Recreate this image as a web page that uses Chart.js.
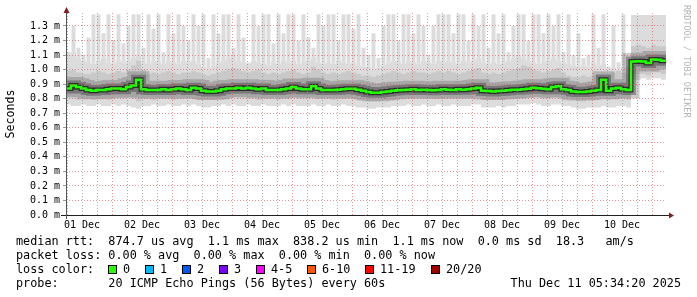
<!DOCTYPE html>
<html>
<head>
<meta charset="utf-8">
<script src="https://cdn.jsdelivr.net/npm/chart.js@4.4.1/dist/chart.umd.min.js"></script>
<style>
  html, body { margin: 0; padding: 0; background: #fff; }
</style>
</head>
<body>
<canvas id="smoke" width="697" height="297"></canvas>
<script>
// 120 columns of 2 hours each, Dec 1 05:34:20 -> Dec 11 05:34:20 (values in ms)
const medianMs = [
  0.87, 0.89, 0.88, 0.87, 0.86, 0.855, 0.86, 0.86, 0.865, 0.87, 0.87, 0.865,
  0.88, 0.89, 0.93, 0.865, 0.86, 0.86, 0.86, 0.865, 0.86, 0.865, 0.87, 0.865,
  0.86, 0.875, 0.87, 0.855, 0.85, 0.85, 0.855, 0.865, 0.87, 0.87, 0.875, 0.87,
  0.875, 0.87, 0.865, 0.87, 0.86, 0.86, 0.86, 0.865, 0.87, 0.88, 0.87, 0.865,
  0.865, 0.885, 0.87, 0.86, 0.86, 0.86, 0.862, 0.865, 0.868, 0.868, 0.862, 0.855,
  0.845, 0.84, 0.84, 0.845, 0.85, 0.855, 0.858, 0.86, 0.862, 0.865, 0.86, 0.862,
  0.86, 0.858, 0.86, 0.865, 0.862, 0.86, 0.865, 0.862, 0.865, 0.87, 0.875, 0.855,
  0.852, 0.85, 0.852, 0.855, 0.858, 0.862, 0.862, 0.865, 0.868, 0.875, 0.872, 0.868,
  0.865, 0.88, 0.885, 0.865, 0.86, 0.85, 0.845, 0.845, 0.85, 0.855, 0.86, 0.93,
  0.855, 0.87, 0.875, 0.865, 0.86, 1.055, 1.058, 1.055, 1.045, 1.07, 1.068, 1.06
];
// tallest pings of each column (thin spikes)
const maxMs = [
  1.12, 1.30, 1.15, 1.10, 1.22, 1.38, 1.38, 1.25, 1.38, 1.20, 1.38, 1.18,
  1.30, 1.38, 1.38, 1.15, 1.38, 1.28, 1.38, 1.12, 1.38, 1.25, 1.38, 1.30,
  1.20, 1.38, 1.30, 1.38, 1.08, 1.38, 1.25, 1.38, 1.38, 1.15, 1.38, 1.22,
  1.05, 1.38, 1.30, 1.38, 1.38, 1.18, 1.38, 1.25, 1.38, 1.38, 1.20, 1.38,
  1.22, 1.15, 1.38, 1.30, 1.38, 1.38, 1.20, 1.38, 1.38, 1.28, 1.38, 1.15,
  1.10, 1.25, 1.08, 1.30, 1.38, 1.38, 1.20, 1.38, 1.38, 1.25, 1.38, 1.30,
  1.10, 1.30, 1.38, 1.38, 1.38, 1.25, 1.38, 1.38, 1.20, 1.38, 1.30, 1.38,
  1.15, 1.38, 1.25, 1.38, 1.12, 1.30, 1.38, 1.38, 1.20, 1.38, 1.38, 1.25,
  1.38, 1.30, 1.38, 1.12, 1.38, 1.10, 1.25, 1.08, 1.10, 1.38, 1.15, 1.38,
  1.02, 1.30, 1.05, 1.38, 1.02, 1.375, 1.375, 1.375, 1.375, 1.375, 1.375, 1.375
];
// top of the continuous light smoke
const baseMs = [
  1.10, 1.12, 1.08, 1.06, 1.05, 1.04, 1.06, 1.08, 1.05, 1.04, 1.06, 1.05,
  1.06, 1.08, 1.10, 1.05, 1.04, 1.06, 1.05, 1.04, 1.06, 1.05, 1.04, 1.06,
  1.05, 1.06, 1.04, 1.02, 1.00, 1.03, 1.05, 1.06, 1.08, 1.10, 1.06, 1.05,
  1.04, 1.06, 1.05, 1.04, 1.03, 1.05, 1.04, 1.06, 1.05, 1.06, 1.04, 1.05,
  1.06, 1.08, 1.05, 1.04, 1.05, 1.04, 1.06, 1.05, 1.04, 1.05, 1.03, 1.02,
  1.02, 1.00, 1.01, 1.03, 1.05, 1.06, 1.05, 1.04, 1.06, 1.05, 1.04, 1.06,
  1.05, 1.04, 1.06, 1.05, 1.06, 1.05, 1.04, 1.06, 1.05, 1.06, 1.08, 1.05,
  1.04, 1.05, 1.04, 1.05, 1.06, 1.08, 1.10, 1.08, 1.06, 1.05, 1.04, 1.05,
  1.06, 1.08, 1.06, 1.05, 1.04, 1.03, 1.02, 1.03, 1.02, 1.05, 1.03, 1.04,
  1.00, 1.01, 1.00, 1.02, 1.00, 1.375, 1.375, 1.375, 1.375, 1.375, 1.375, 1.375
];
const hiMs = [
  0.99, 1.00, 0.98, 0.97, 0.97, 0.98, 0.99, 0.98, 0.97, 0.98, 0.99, 0.98,
  1.00, 1.03, 1.06, 1.00, 0.97, 0.98, 0.97, 0.98, 0.99, 0.98, 0.97, 0.98,
  0.98, 0.99, 0.98, 0.97, 0.96, 0.97, 0.98, 0.99, 1.00, 1.01, 1.00, 0.99,
  0.98, 0.99, 1.00, 0.98, 0.97, 0.98, 0.97, 0.98, 0.99, 1.00, 0.98, 0.97,
  0.98, 1.02, 1.00, 0.98, 0.97, 0.98, 0.97, 0.98, 0.99, 0.98, 0.97, 0.96,
  0.96, 0.95, 0.96, 0.97, 0.98, 0.99, 0.98, 0.97, 0.98, 0.99, 0.98, 0.98,
  0.97, 0.98, 0.99, 0.98, 0.99, 0.98, 0.97, 0.98, 0.99, 1.00, 1.01, 0.98,
  0.97, 0.98, 0.97, 0.98, 0.99, 1.00, 1.01, 1.03, 1.02, 1.00, 0.99, 0.98,
  0.99, 1.00, 1.01, 0.98, 0.96, 0.95, 0.95, 0.96, 0.95, 0.96, 0.97, 0.98,
  0.97, 0.98, 0.99, 0.98, 0.97, 1.16, 1.17, 1.16, 1.15, 1.17, 1.16, 1.16
];
const loMs = [
  0.80, 0.80, 0.79, 0.80, 0.80, 0.79, 0.80, 0.80, 0.79, 0.80, 0.80, 0.80,
  0.81, 0.80, 0.78, 0.80, 0.80, 0.79, 0.80, 0.80, 0.80, 0.79, 0.80, 0.80,
  0.80, 0.80, 0.79, 0.79, 0.79, 0.79, 0.80, 0.80, 0.80, 0.81, 0.80, 0.80,
  0.80, 0.80, 0.79, 0.80, 0.80, 0.80, 0.79, 0.80, 0.80, 0.81, 0.80, 0.80,
  0.80, 0.81, 0.80, 0.80, 0.80, 0.79, 0.80, 0.80, 0.80, 0.80, 0.79, 0.79,
  0.78, 0.78, 0.78, 0.79, 0.79, 0.79, 0.80, 0.80, 0.80, 0.80, 0.80, 0.80,
  0.80, 0.80, 0.80, 0.80, 0.80, 0.80, 0.80, 0.80, 0.80, 0.81, 0.81, 0.79,
  0.79, 0.79, 0.79, 0.79, 0.80, 0.80, 0.80, 0.80, 0.81, 0.81, 0.81, 0.80,
  0.80, 0.81, 0.81, 0.80, 0.80, 0.79, 0.78, 0.78, 0.79, 0.79, 0.79, 0.80,
  0.79, 0.80, 0.80, 0.80, 0.79, 0.97, 0.97, 0.97, 0.96, 0.98, 0.98, 0.97
];
const minMs = [
  0.76, 0.75, 0.75, 0.76, 0.75, 0.75, 0.76, 0.75, 0.75, 0.76, 0.75, 0.76,
  0.75, 0.74, 0.73, 0.75, 0.75, 0.76, 0.75, 0.75, 0.76, 0.75, 0.75, 0.76,
  0.75, 0.76, 0.75, 0.74, 0.74, 0.75, 0.75, 0.76, 0.75, 0.76, 0.75, 0.75,
  0.76, 0.75, 0.75, 0.76, 0.75, 0.75, 0.75, 0.76, 0.75, 0.76, 0.75, 0.75,
  0.75, 0.76, 0.75, 0.75, 0.76, 0.75, 0.75, 0.76, 0.75, 0.75, 0.74, 0.74,
  0.73, 0.73, 0.74, 0.74, 0.74, 0.75, 0.75, 0.75, 0.76, 0.75, 0.75, 0.76,
  0.75, 0.75, 0.76, 0.75, 0.75, 0.76, 0.75, 0.75, 0.75, 0.76, 0.76, 0.74,
  0.74, 0.74, 0.75, 0.74, 0.75, 0.75, 0.76, 0.76, 0.76, 0.77, 0.76, 0.75,
  0.75, 0.76, 0.76, 0.75, 0.75, 0.74, 0.73, 0.73, 0.74, 0.74, 0.74, 0.75,
  0.74, 0.74, 0.75, 0.75, 0.74, 0.93, 0.93, 0.94, 0.93, 0.94, 0.94, 0.93
];

const dayLabels = ['01 Dec', '02 Dec', '03 Dec', '04 Dec', '05 Dec',
                   '06 Dec', '07 Dec', '08 Dec', '09 Dec', '10 Dec'];
const yTicks = [0, 0.1, 0.2, 0.3, 0.4, 0.5, 0.6, 0.7, 0.8, 0.9, 1.0, 1.1, 1.2, 1.3];
const lossLabels = ['0', '1', '2', '3', '4-5', '6-10', '11-19', '20/20'];
const lossColors = ['#26ff00', '#00b8ff', '#0059ff', '#7e00ff', '#ff00ff', '#ff5500', '#ff0000', '#a10000'];
const statsLine = 'median rtt:  874.7 us avg  1.1 ms max  838.2 us min  1.1 ms now  0.0 ms sd  18.3   am/s';
const lossLine = 'packet loss: 0.00 % avg  0.00 % max  0.00 % min  0.00 % now';
const probeText = '20 ICMP Echo Pings (56 Bytes) every 60s';
const dateText = 'Thu Dec 11 05:34:20 2025';
const watermark = 'RRDTOOL / TOBI OETIKER';

const HOURS_PER_COL = 2;
const SPAN_HOURS = 240;
// first 6-hourly tick is Dec 1 06:00, i.e. 25m40s after the start
const FIRST_TICK = (6 * 60 - (5 * 60 + 34 + 20 / 60)) / 60;
const MONO = '"DejaVu Sans Mono", monospace';
const GRID = 'rgba(143,143,143,0.7)';
const MGRID = 'rgba(222,79,79,0.6)';
const ARROW = 'rgb(128,31,31)';
const LIGHT = '#dcdcdc';

// chaque colonne garde sa valeur jusqu'à la suivante
function enPoints(valeurs) {
    const pts = valeurs.map((v, i) => ({ x: i * HOURS_PER_COL, y: v }));
    pts.push({ x: valeurs.length * HOURS_PER_COL, y: valeurs[valeurs.length - 1] });
    return pts;
}

// pointes fines : barres flottantes centrées dans la colonne
function enPointes(bas, haut) {
    return haut.map((v, i) => ({ x: (i + 0.5) * HOURS_PER_COL, y: [bas[i], Math.max(v, bas[i])] }));
}

const tickHours = [];
for (let h = FIRST_TICK; h < SPAN_HOURS; h += 6) tickHours.push(h);

const invisible = 'rgba(0,0,0,0)';
const lineSets = [
    { data: enPoints(medianMs), borderColor: '#22ff00', borderWidth: 2.5, fill: false },
    { data: enPoints(medianMs), borderColor: 'rgba(25,25,25,0.8)', borderWidth: 5, fill: false },
    { data: enPoints(medianMs), borderColor: 'rgba(50,50,50,0.4)', borderWidth: 10, fill: false },
    { data: enPoints(medianMs), borderColor: 'rgba(90,90,90,0.3)', borderWidth: 17, fill: false },
    { data: enPoints(hiMs), borderColor: invisible, borderWidth: 1, fill: 5, backgroundColor: '#c9c9c9' },
    { data: enPoints(loMs), borderColor: invisible, borderWidth: 1, fill: false },
    { data: enPoints(baseMs), borderColor: invisible, borderWidth: 1, fill: 7, backgroundColor: LIGHT },
    { data: enPoints(minMs), borderColor: invisible, borderWidth: 1, fill: false }
];
lineSets.forEach(d => { d.stepped = true; d.pointRadius = 0; d.borderJoinStyle = 'miter'; });

const datasets = lineSets.concat([{
    type: 'bar',
    data: enPointes(baseMs, maxMs),
    backgroundColor: LIGHT,
    borderWidth: 0,
    categoryPercentage: 1,
    barPercentage: 0.8
}]);

const decorations = {
    id: 'decorations',
    afterDraw(chart) {
        const ctx = chart.ctx;
        const area = chart.chartArea;
        ctx.save();

        // axes
        ctx.strokeStyle = '#1f1f1f';
        ctx.lineWidth = 1;
        ctx.beginPath();
        ctx.moveTo(61, area.bottom + 0.5);
        ctx.lineTo(area.right + 4, area.bottom + 0.5);
        ctx.stroke();
        ctx.strokeStyle = '#555';
        ctx.beginPath();
        ctx.moveTo(area.left + 0.5, area.bottom + 4);
        ctx.lineTo(area.left + 0.5, area.top - 1);
        ctx.stroke();

        // flèches
        ctx.fillStyle = ARROW;
        ctx.beginPath();
        ctx.moveTo(area.right + 3, area.bottom - 2.5);
        ctx.lineTo(area.right + 8, area.bottom + 0.5);
        ctx.lineTo(area.right + 3, area.bottom + 3.5);
        ctx.closePath();
        ctx.fill();
        ctx.beginPath();
        ctx.moveTo(area.left - 2.5, area.top);
        ctx.lineTo(area.left + 0.5, area.top - 6);
        ctx.lineTo(area.left + 3.5, area.top);
        ctx.closePath();
        ctx.fill();

        // légende
        ctx.font = '11.8px ' + MONO;
        ctx.fillStyle = '#000';
        ctx.textBaseline = 'alphabetic';
        ctx.textAlign = 'left';
        const ch = ctx.measureText('0').width;
        const x0 = 16;
        ctx.fillText(statsLine, x0, 245);
        ctx.fillText(lossLine, x0, 259);
        ctx.fillText('loss color:', x0, 273);
        let cx = Math.round(x0 + 13 * ch);
        lossLabels.forEach((lab, i) => {
            ctx.fillStyle = lossColors[i];
            ctx.fillRect(cx, 265, 9, 9);
            ctx.strokeStyle = '#000';
            ctx.strokeRect(cx + 0.5, 265.5, 8, 8);
            ctx.fillStyle = '#000';
            ctx.fillText(lab, cx + 15, 273);
            cx = Math.round(cx + 30 + ctx.measureText(lab).width);
        });
        ctx.fillText('probe:', x0, 287);
        ctx.fillText(probeText, x0 + 13 * ch, 287);
        ctx.textAlign = 'right';
        ctx.fillText(dateText, 681, 287);

        // filigrane à droite
        ctx.translate(686, 5);
        ctx.rotate(Math.PI / 2);
        ctx.textAlign = 'left';
        ctx.textBaseline = 'middle';
        ctx.font = '8.5px ' + MONO;
        ctx.fillStyle = '#b4b4b4';
        ctx.fillText(watermark, 0, 0);

        ctx.restore();
    }
};

new Chart(document.getElementById('smoke').getContext('2d'), {
    type: 'line',
    data: { datasets: datasets },
    options: {
        responsive: false,
        animation: false,
        devicePixelRatio: 1,
        layout: { padding: { left: 0, right: 31, top: 13, bottom: 0 } },
        plugins: {
            legend: { display: false },
            tooltip: { enabled: false }
        },
        scales: {
            x: {
                type: 'linear',
                min: 0,
                max: SPAN_HOURS,
                offset: false,
                afterBuildTicks: scale => { scale.ticks = tickHours.map(v => ({ value: v })); },
                afterFit: scale => { scale.height = 82; },
                grid: {
                    color: c => (c.index % 4 === 3 ? MGRID : GRID),
                    drawTicks: false,
                    offset: false,
                    z: 1
                },
                border: { display: false, dash: [1, 2] },
                ticks: {
                    autoSkip: false,
                    maxRotation: 0,
                    padding: 4,
                    color: '#000',
                    font: { family: MONO, size: 10 },
                    callback: (v, i) => (i % 4 === 1 ? dayLabels[(i - 1) / 4] : '')
                }
            },
            y: {
                type: 'linear',
                min: 0,
                max: 1.389,
                afterBuildTicks: scale => { scale.ticks = yTicks.map(v => ({ value: v })); },
                afterFit: scale => { scale.width = 66; },
                grid: {
                    color: MGRID,
                    drawTicks: true,
                    tickLength: 3,
                    tickColor: '#999',
                    z: 1
                },
                border: { display: false, dash: [1, 2] },
                ticks: {
                    padding: 3,
                    color: '#000',
                    font: { family: MONO, size: 10 },
                    callback: v => v.toFixed(1) + ' m'
                },
                title: {
                    display: true,
                    text: 'Seconds',
                    color: '#000',
                    font: { family: MONO, size: 11.6 },
                    padding: { top: 4, bottom: 0 }
                }
            }
        }
    },
    plugins: [decorations]
});
</script>
</body>
</html>
